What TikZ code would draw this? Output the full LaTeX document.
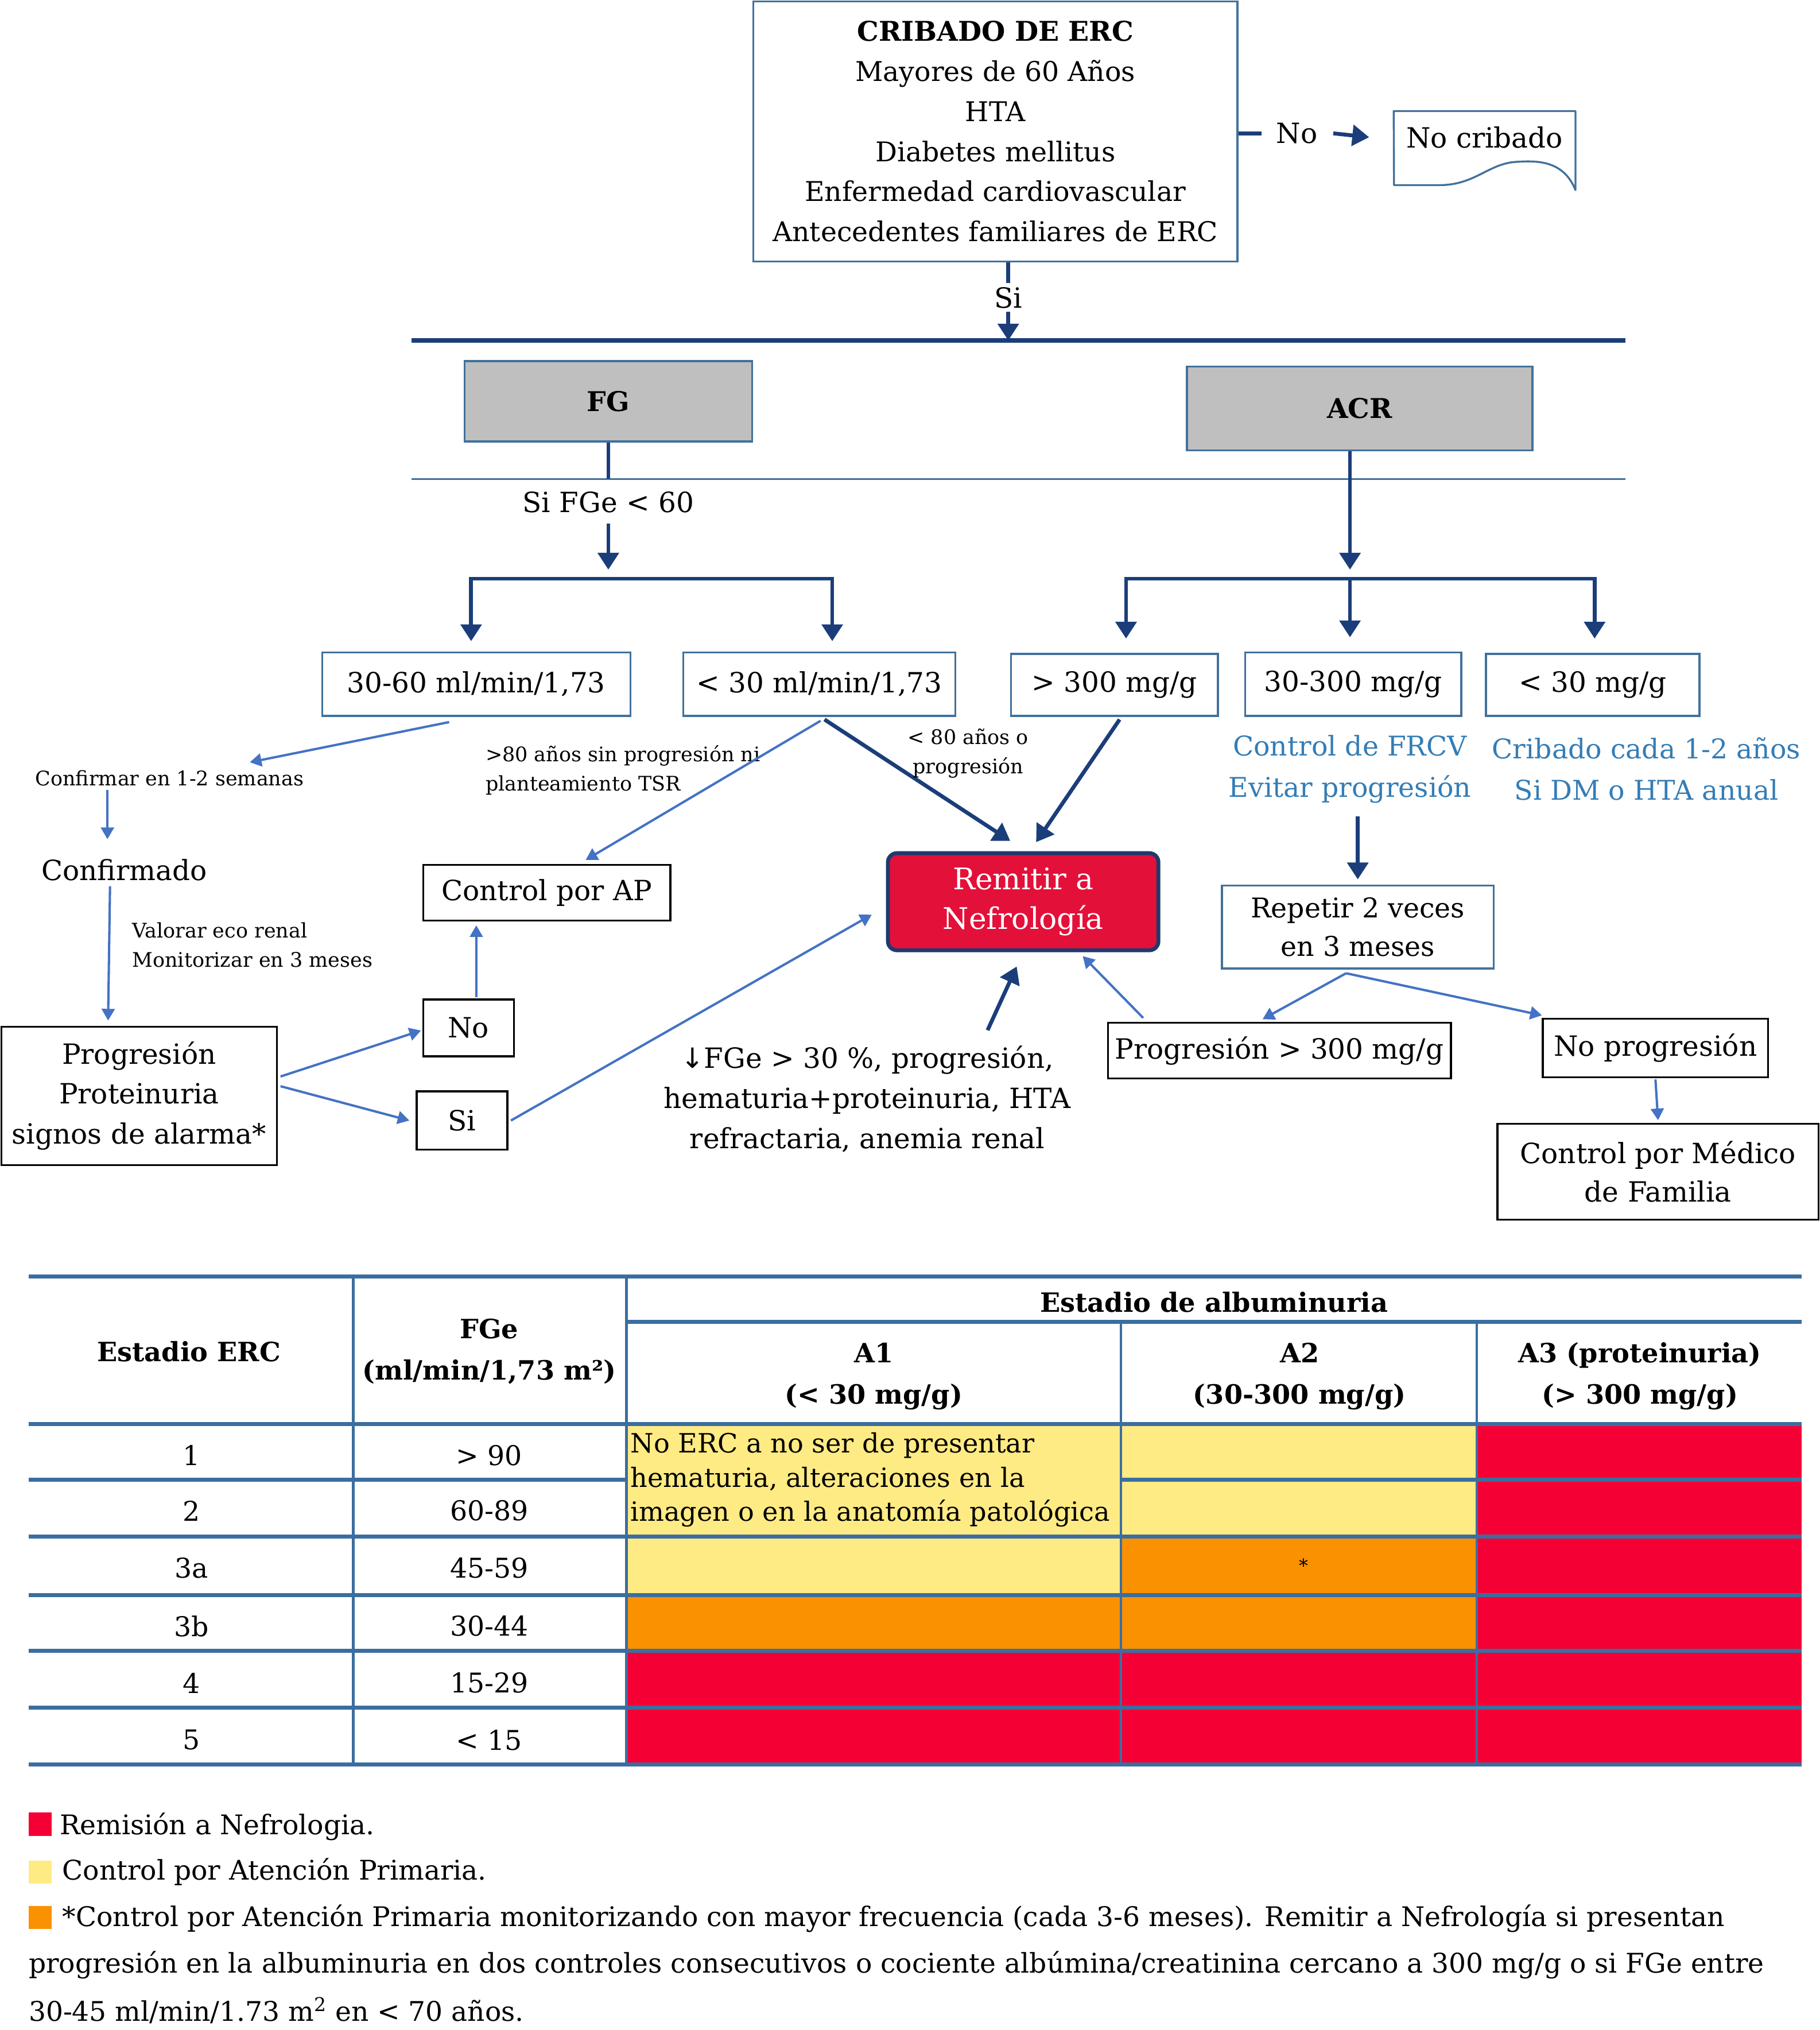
\documentclass[tikz,border=0pt]{standalone}
\usepackage{fontspec}
\setmainfont{DejaVu Serif}
\newfontfamily\symfont{DejaVu Sans}
\usetikzlibrary{arrows.meta,calc}

\definecolor{navy}{RGB}{27,62,122}
\definecolor{steel}{RGB}{65,113,156}
\definecolor{lblue}{RGB}{68,114,196}
\definecolor{tblue}{RGB}{52,125,182}
\definecolor{gfill}{RGB}{191,191,191}
\definecolor{remred}{RGB}{227,16,58}
\definecolor{remborder}{RGB}{30,58,110}
\definecolor{tred}{RGB}{245,0,52}
\definecolor{tyel}{RGB}{255,235,132}
\definecolor{torg}{RGB}{250,145,0}
\definecolor{tline}{RGB}{59,110,160}

\begin{document}
\begin{tikzpicture}[x=1pt,y=-1pt,
  fs/.style={font=\fontsize{21.5}{31}\selectfont},
  sm/.style={font=\fontsize{15.5}{22.5}\selectfont},
  tx/.style={fs, align=center, inner sep=0pt},
  bbox/.style={draw=steel, line width=1.5pt, fs, align=center, inner sep=0pt},
  kbox/.style={draw=black, line width=1.5pt, fs, align=center, inner sep=0pt},
  navyarrow/.style={draw=navy, line width=3pt, -{Triangle[width=16pt,length=13pt]}},
  navyline/.style={draw=navy, line width=3pt},
  larrow/.style={draw=lblue, line width=1.8pt, -{Triangle[width=10pt,length=9pt]}},
  tcell/.style={font=\fontsize{21}{31}\selectfont, align=center, inner sep=0pt},
  thead/.style={font=\bfseries\fontsize{20.5}{32}\selectfont, align=center, inner sep=0pt},
  legtx/.style={font=\fontsize{20.9}{24}\selectfont, anchor=west, inner sep=0pt},
]
\useasboundingbox (0,0) rectangle (1406,1568);

% ---------- top part ----------
\node[bbox, minimum width=374pt, minimum height=201pt, font=\fontsize{21}{31}\selectfont] (top) at (769,101.5)
  {{\bfseries CRIBADO DE ERC}\\Mayores de 60 Años\\HTA\\Diabetes mellitus\\Enfermedad cardiovascular\\Antecedentes familiares de ERC};

\node[tx] (noLbl) at (1002,103) {No};
\node[tx, minimum width=140pt, minimum height=40pt] (noCrib) at (1147,106) {No cribado};
\draw[steel, line width=1.5pt, line join=round]
  (noCrib.north west) -- (noCrib.north east) -- ++(0,61)
  .. controls (1208,124) and (1188,124) .. (1172,125)
  .. controls (1150,126) and (1140,143) .. (1112,143)
  -- (1077,143) -- cycle;
\draw[navyline] (top.east |- noLbl.center) -- ++(18,0);
\draw[navyarrow] ([xshift=12pt]noLbl.east |- noLbl.center) -- ([xshift=-19pt]noCrib.west);

\coordinate (hlL) at (318,263);
\coordinate (hlR) at (1256,263);
\draw[navyline, line width=3.5pt] (hlL) -- (hlR);
\draw[navyarrow] ([xshift=10pt]top.south) -- ([xshift=10pt]top.south |- hlL)
  node[pos=0.45, fill=white, tx, inner ysep=3pt] (siLbl) {Si};

\node[draw=steel, line width=1.5pt, fill=gfill, minimum width=222pt, minimum height=62pt,
  font=\bfseries\fontsize{21}{31}\selectfont] (FG) at (470,310) {FG};
\node[draw=steel, line width=1.5pt, fill=gfill, minimum width=267pt, minimum height=65pt,
  font=\bfseries\fontsize{21}{31}\selectfont] (ACR) at (1050.5,315.5) {ACR};

\coordinate (tlL) at (318,370);
\coordinate (tlR) at (1256,370);
\draw[steel, line width=1.3pt] (tlL) -- (tlR);
\draw[navyline] (FG.south) -- (FG.south |- tlL);
\node[tx] (sifge) at (470,388) {Si FGe < 60};

\coordinate (fgbr) at (470,447);
\coordinate (acrbr) at (1043,447);
\draw[navyarrow] ([yshift=-8pt]sifge.south) -- (470,440);
\draw[navyarrow] (acrbr |- ACR.south) -- (1043,440);

% second row boxes
\node[bbox, minimum width=238pt, minimum height=49pt] (b3060) at (368,528.5) {30-60 ml/min/1,73};
\node[bbox, minimum width=210pt, minimum height=49pt] (b30) at (633,528.5) {< 30 ml/min/1,73};
\node[bbox, minimum width=160pt, minimum height=48pt] (b300) at (861,529) {> 300 mg/g};
\node[bbox, minimum width=167pt, minimum height=49pt] (b30300) at (1045.5,528.5) {30-300 mg/g};
\node[bbox, minimum width=165pt, minimum height=48pt] (bl30) at (1230.5,529) {< 30 mg/g};

% brackets
\draw[draw=navy, line width=3pt, line join=miter, {Triangle[width=16pt,length=13pt]}-{Triangle[width=16pt,length=13pt]}]
  ([xshift=-4pt,yshift=8pt]b3060.north) -- ([xshift=-4pt]b3060.north |- fgbr) -- ([xshift=10pt]b30.north |- fgbr) -- ([xshift=10pt,yshift=8pt]b30.north);
\draw[draw=navy, line width=3pt, line join=miter, {Triangle[width=16pt,length=13pt]}-{Triangle[width=16pt,length=13pt]}]
  ([xshift=9pt,yshift=11pt]b300.north) -- ([xshift=9pt]b300.north |- acrbr) -- ([xshift=1.5pt]bl30.north |- acrbr) -- ([xshift=1.5pt,yshift=11pt]bl30.north);
\draw[navyarrow] (acrbr) -- ([yshift=11pt]acrbr |- b30300.north);

% blue notes
\node[tx, text=tblue, font=\fontsize{21}{32}\selectfont] (ctrlfrcv) at (1043,594) {Control de FRCV\\Evitar progresión};
\node[tx, text=tblue, font=\fontsize{21}{32}\selectfont] (cribado) at (1272,594) {Cribado cada 1-2 años\\Si DM o HTA anual};

\node[bbox, minimum width=210pt, minimum height=64pt, font=\fontsize{21}{30}\selectfont] (repetir) at (1049,716) {Repetir 2 veces\\en 3 meses};
\draw[navyarrow] ([yshift=-10pt]ctrlfrcv.south -| repetir.north) -- ([yshift=4pt]repetir.north);

\node[kbox, minimum width=265pt, minimum height=43pt] (prog300) at (988.5,811.5) {Progresión > 300 mg/g};
\node[kbox, minimum width=174pt, minimum height=45pt] (noprog) at (1279,809.5) {No progresión};
\node[kbox, minimum width=248pt, minimum height=74pt, font=\fontsize{21.5}{30}\selectfont] (medico) at (1281,905) {Control por Médico\\de Familia};

\draw[larrow] ([xshift=-9pt,yshift=-3pt]repetir.south) -- ([xshift=-13pt,yshift=2pt]prog300.north);
\draw[larrow] ([xshift=-9pt,yshift=-3pt]repetir.south) -- ([yshift=2pt]noprog.north west);
\draw[larrow] ([yshift=-1pt]noprog.south) -- ([yshift=2pt]medico.north);

% Remitir
\node[draw=remborder, fill=remred, line width=3pt, rounded corners=7pt, text=white,
  minimum width=209pt, minimum height=75pt, tx, font=\fontsize{23}{31}\selectfont] (remitir) at (790.5,696.5) {Remitir a\\Nefrología};
\draw[larrow] ([xshift=28pt,yshift=3pt]prog300.north west) -- ($(remitir.south)+(46,3)$);

\draw[navyarrow] ([xshift=4pt,yshift=-2pt]b30.south) -- ($(remitir.north)+(-10,-8)$);
\draw[navyarrow] ([xshift=4pt,yshift=-2pt]b300.south) -- ($(remitir.north)+(10,-7)$);
\node[sm, align=center, inner sep=0pt] (lt80) at (748,582) {< 80 años o\\progresión};
\node[sm, align=left, inner sep=0pt, anchor=west] (gt80) at (375,595) {>80 años sin progresión ni\\planteamiento TSR};

\node[kbox, minimum width=191pt, minimum height=43pt] (ctrlAP) at (422.5,689.5) {Control por AP};
\draw[larrow] ([xshift=1pt,yshift=-3pt]b30.south) -- ($(ctrlAP.north)+(30,-3)$);

% left branch
\node[sm, inner sep=0pt] (confirmar) at (131,601) {Confirmar en 1-2 semanas};
\node[tx] (confirmado) at (96,672) {Confirmado};
\node[sm, align=left, inner sep=0pt, anchor=west] (valorar) at (102,730) {Valorar eco renal\\Monitorizar en 3 meses};
\node[kbox, minimum width=213pt, minimum height=107pt] (progBox) at (107.5,846.5) {Progresión\\Proteinuria\\signos de alarma*};
\node[kbox, minimum width=70pt, minimum height=44pt] (noBox) at (362,794) {No};
\node[kbox, minimum width=70pt, minimum height=45pt] (siBox) at (357,865.5) {Si};

\draw[larrow] ([xshift=-21pt,yshift=-4pt]b3060.south) -- ($(confirmar.north)+(62,-6)$);
\draw[larrow] ([xshift=-48pt,yshift=-3pt]confirmar.south) -- ($(confirmar.south)+(-48,41)$);
\draw[larrow] ([xshift=-11pt,yshift=-4pt]confirmado.south) -- ($(progBox.north)+(-24,-4)$);
\draw[larrow] ([xshift=2pt,yshift=15pt]progBox.east) -- ([xshift=-1pt,yshift=-2pt]noBox.west);
\draw[larrow] ([xshift=2pt,yshift=7.5pt]progBox.east) -- ([xshift=-5pt]siBox.west);
\draw[larrow] ([xshift=6pt,yshift=1pt]noBox.north) -- ([xshift=-54.5pt,yshift=-3pt]ctrlAP.south);
\draw[larrow] ([xshift=2pt]siBox.east) -- ($(remitir.west)+(-11,10)$);

\node[tx] (fge) at (670,849) {{\symfont ↓}FGe > 30 \%, progresión,\\hematuria+proteinuria, HTA\\refractaria, anemia renal};
\draw[navyarrow] ([xshift=93pt,yshift=12pt]fge.north) -- ($(remitir.south)+(-5,11)$);

% ---------- table ----------
\fill[tyel] (484,1100) rectangle (866,1187);
\fill[tyel] (866,1100) rectangle (1141,1187);
\fill[tred] (1141,1100) rectangle (1392,1363);
\fill[tyel] (484,1187) rectangle (866,1232);
\fill[torg] (866,1187) rectangle (1141,1275);
\fill[torg] (484,1232) rectangle (866,1275);
\fill[tred] (484,1275) rectangle (1141,1363);

\begin{scope}[tline]
\draw[line width=3pt] (22,986) -- (1392,986);
\draw[line width=3pt] (484,1021) -- (1392,1021);
\draw[line width=3pt] (22,1100) -- (1392,1100);
\draw[line width=3pt] (22,1143) -- (484,1143);
\draw[line width=3pt] (866,1143) -- (1392,1143);
\foreach \yy in {1187,1232,1275,1319,1363}
  \draw[line width=3pt] (22,\yy) -- (1392,\yy);
\draw[line width=2pt] (273,986) -- (273,1363);
\draw[line width=2pt] (484,986) -- (484,1363);
\draw[line width=2pt] (866,1021) -- (866,1363);
\draw[line width=2pt] (1141,1021) -- (1141,1363);
\end{scope}

\node[thead] (hEst) at (146,1044) {Estadio ERC};
\node[thead] (hFGe) at (378,1044) {FGe\\(ml/min/1,73 m²)};
\node[thead] (hAlb) at (938,1006) {Estadio de albuminuria};
\node[thead] (hA1) at (675,1063) {A1\\(< 30 mg/g)};
\node[thead] (hA2) at (1004,1063) {A2\\(30-300 mg/g)};
\node[thead] (hA3) at (1267,1063) {A3 (proteinuria)\\(> 300 mg/g)};

\node[tcell] (r1a) at (148,1124) {1};
\node[tcell] (r1b) at (378,1124) {> 90};
\node[tcell] (r2a) at (148,1167) {2};
\node[tcell] (r2b) at (378,1167) {60-89};
\node[tcell] (r3a) at (148,1211) {3a};
\node[tcell] (r3b) at (378,1211) {45-59};
\node[tcell] (r4a) at (148,1256) {3b};
\node[tcell] (r4b) at (378,1256) {30-44};
\node[tcell] (r5a) at (148,1300) {4};
\node[tcell] (r5b) at (378,1300) {15-29};
\node[tcell] (r6a) at (148,1344) {5};
\node[tcell] (r6b) at (378,1344) {< 15};
\node[font=\fontsize{20.5}{26.5}\selectfont, align=left, inner sep=0pt, anchor=west] (noerc) at (487,1143)
  {No ERC a no ser de presentar\\hematuria, alteraciones en la\\imagen o en la anatomía patológica};
\node[font=\fontsize{14}{16}\selectfont, inner sep=0pt] (star) at (1007,1209) {*};

% ---------- legend ----------
\fill[tred] (22,1400) rectangle (40,1418);
\fill[tyel] (22,1437) rectangle (40,1455);
\fill[torg] (22,1472) rectangle (40,1490);
\node[legtx] (leg1) at (46,1411) {Remisión a Nefrologia.};
\node[legtx] (leg2) at (48,1446) {Control por Atención Primaria.};
\node[legtx] (leg3) at (48,1482) {*Control por Atención Primaria monitorizando con mayor frecuencia (cada 3-6 meses). Remitir a Nefrología si presentan};
\node[legtx] (leg4) at (22,1518) {progresión en la albuminuria en dos controles consecutivos o cociente albúmina/creatinina cercano a 300 mg/g o si FGe entre};
\node[legtx] (leg5) at (22,1553) {30-45 ml/min/1.73 m\textsuperscript{2} en < 70 años.};

\end{tikzpicture}
\end{document}
